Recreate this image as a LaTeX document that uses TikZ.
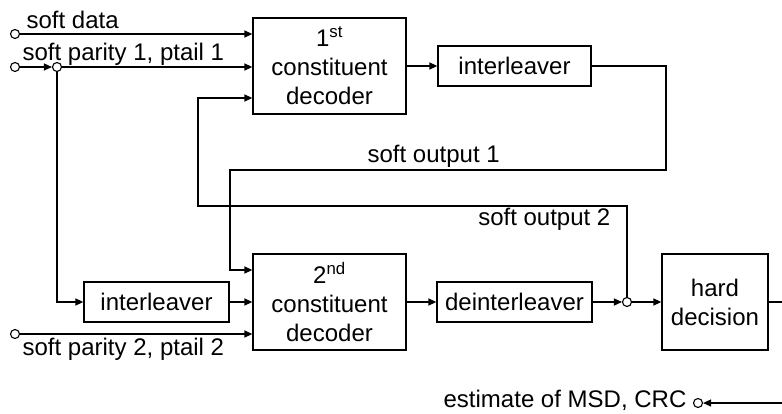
\documentclass[tikz,border=0pt]{standalone}
\usepackage{fontspec}
\setmainfont{Liberation Sans}
\usetikzlibrary{arrows.meta,calc}
\begin{document}
\begin{tikzpicture}[x=1pt,y=-1pt,
  font=\fontsize{24}{29}\selectfont,
  line width=1.3pt,
  blk/.style={draw,inner sep=0pt,align=center},
  arr/.style={-{Triangle[length=8pt,width=7pt]}},
  dot/.style={circle,draw,fill=white,inner sep=0pt,minimum size=9pt,line width=1.1pt},
  lbl/.style={inner sep=0pt,anchor=base west}]
\useasboundingbox (0,0) rectangle (782,414);
\clip (0,0) rectangle (782,414);
% blocks
\node[blk,minimum width=153pt,minimum height=96pt] (b1) at (329.5,66) {1\textsuperscript{st}\\constituent\\decoder};
\node[blk,minimum width=153pt,minimum height=40pt] (il1) at (514.5,66) {interleaver};
\node[blk,minimum width=153pt,minimum height=96pt] (b2) at (329.5,302) {2\textsuperscript{nd}\\constituent\\decoder};
\node[blk,minimum width=145pt,minimum height=40pt] (il2) at (156.5,302) {interleaver};
\node[blk,minimum width=155pt,minimum height=40pt] (dil) at (514.5,302) {deinterleaver};
\node[blk,minimum width=106pt,minimum height=96pt] (hd) at (715,302) {hard\\decision};
% terminals and junctions
\node[dot] (csd) at (15,34) {};
\node[dot] (csp1) at (15,67) {};
\node[dot] (j1) at (57,67) {};
\node[dot] (csp2) at (15,334) {};
\node[dot] (j2) at (627,302) {};
\node[dot] (ce) at (698,403) {};
\coordinate (fb1) at (666,66);
\coordinate (fb2) at (666,170);
\coordinate (fb3) at (230,170);
\coordinate (fc1) at (627,206);
\coordinate (fc2) at (198,206);
\coordinate (oc1) at (790,302);
\coordinate (oc2) at (790,403);
% labels
\node[lbl] (t1) at (26,29) {soft data};
\node[lbl] (t2) at (22,61) {soft parity 1, ptail 1};
\node[lbl] (t3) at (22,355) {soft parity 2, ptail 2};
\node[lbl] (t4) at (367,163) {soft output 1};
\node[inner sep=0pt,anchor=base east] (t5) at (611,226) {soft output 2};
\node[lbl] (t6) at (443,407) {estimate of MSD, CRC};
% connectors
\draw[arr] (csd) -- (b1.west |- csd);
\draw[arr] (csp1) -- (j1);
\draw[arr] (j1) -- (b1.west |- j1);
\draw[arr] (j1) |- (il2.west);
\draw[arr] (il2) -- (b2);
\draw[arr] (csp2) -- (b2.west |- csp2);
\draw[arr] (b1.east |- il1) -- (il1);
\draw[arr] (il1.east) -- (fb1) -- (fb2) -- (fb3) |- ($(b2.west)+(0,-32)$);
\draw[arr] (b2) -- (dil);
\draw[arr] (dil) -- (j2);
\draw[arr] (j2) -- (hd);
\draw[arr] (j2) -- (fc1) -- (fc2) |- ($(b1.west)+(0,32)$);
\draw[arr] (hd.east) -- (oc1) -- (oc2) -- (ce);
\end{tikzpicture}
\end{document}
